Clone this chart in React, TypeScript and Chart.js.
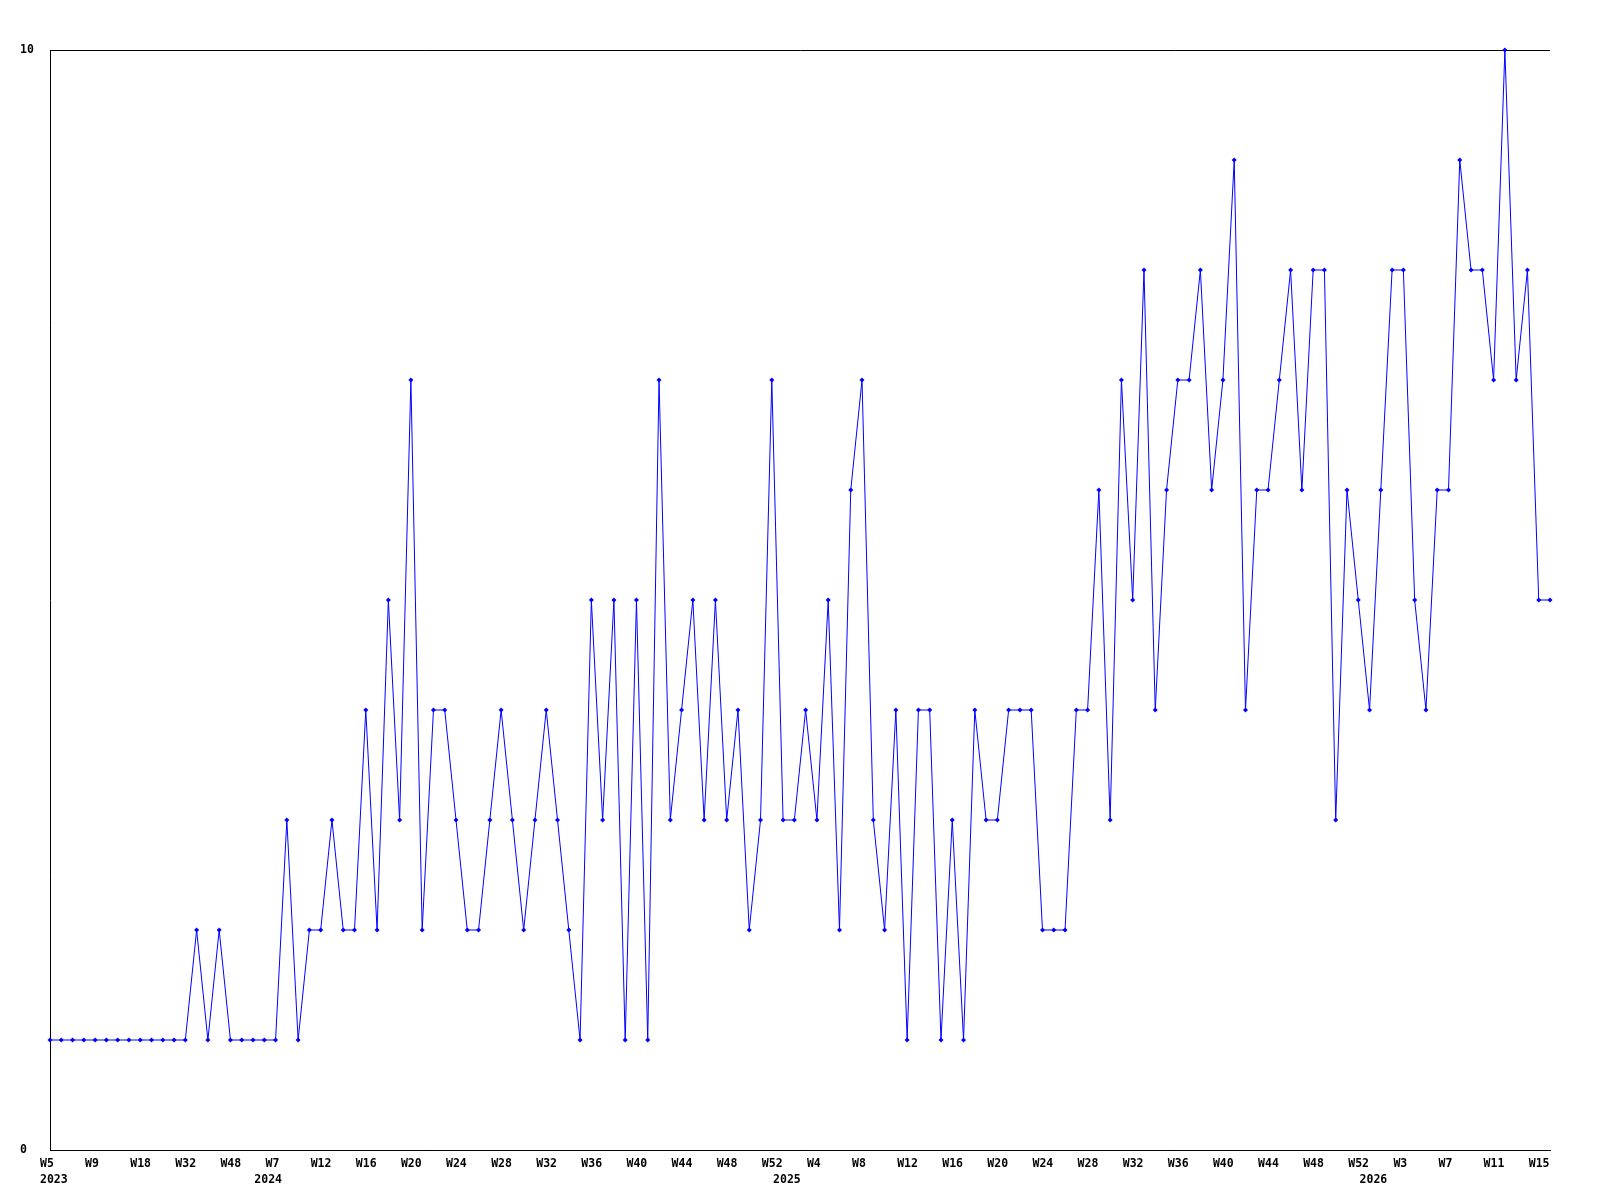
import React, { useEffect, useRef } from "react";
import { Chart, registerables } from "chart.js";

Chart.register(...registerables);

// Week labels per point, grouped by year
const years = ["2023", "2024", "2025", "2026"];
const weeks2023 = ["W5", "W6", "W7", "W8", "W9", "W11", "W13", "W16", "W18", "W21", "W25", "W28", "W32", "W36", "W40", "W44", "W48", "W50", "W52"];
const weeks2024 = ["W5", "W7", "W8", "W9", "W11", "W12", "W13", "W14", "W15", "W16", "W17", "W18", "W19", "W20", "W21", "W22", "W23", "W24", "W25", "W26", "W27", "W28", "W29", "W30", "W31", "W32", "W33", "W34", "W35", "W36", "W37", "W38", "W39", "W40", "W41", "W42", "W43", "W44", "W45", "W46", "W47", "W48", "W49", "W50", "W51", "W52"];
const weeks2025 = ["W1", "W2", "W3", "W4", "W5", "W6", "W7", "W8", "W9", "W10", "W11", "W12", "W13", "W14", "W15", "W16", "W17", "W18", "W19", "W20", "W21", "W22", "W23", "W24", "W25", "W26", "W27", "W28", "W29", "W30", "W31", "W32", "W33", "W34", "W35", "W36", "W37", "W38", "W39", "W40", "W41", "W42", "W43", "W44", "W45", "W46", "W47", "W48", "W49", "W50", "W51", "W52"];
const weeks2026 = ["W0", "W1", "W2", "W3", "W4", "W5", "W6", "W7", "W8", "W9", "W10", "W11", "W12", "W13", "W14", "W15", "W16"];

// Values per point, grouped by year
const values2023 = [1, 1, 1, 1, 1, 1, 1, 1, 1, 1, 1, 1, 1, 2, 1, 2, 1, 1, 1];
const values2024 = [1, 1, 3, 1, 2, 2, 3, 2, 2, 4, 2, 5, 3, 7, 2, 4, 4, 3, 2, 2, 3, 4, 3, 2, 3, 4, 3, 2, 1, 5, 3, 5, 1, 5, 1, 7, 3, 4, 5, 3, 5, 3, 4, 2, 3, 7];
const values2025 = [3, 3, 4, 3, 5, 2, 6, 7, 3, 2, 4, 1, 4, 4, 1, 3, 1, 4, 3, 3, 4, 4, 4, 2, 2, 2, 4, 4, 6, 3, 7, 5, 8, 4, 6, 7, 7, 8, 6, 7, 9, 4, 6, 6, 7, 8, 6, 8, 8, 3, 6, 5];
const values2026 = [4, 6, 8, 8, 5, 4, 6, 6, 9, 8, 8, 7, 10, 7, 8, 5, 5];

const yTicks = [0, 10];
const labelEvery = 4;

export default function App() {
  const canvasRef = useRef<HTMLCanvasElement | null>(null);

  useEffect(() => {
    const weekGroups = [weeks2023, weeks2024, weeks2025, weeks2026];
    const categories: string[] = weekGroups.flat();
    const values: number[] = [values2023, values2024, values2025, values2026].flat();
    const yearAt = new Map<number, string>();
    let start = 0;
    weekGroups.forEach((g, k) => {
      yearAt.set(start, years[k]);
      start += g.length;
    });

    const font = { family: '"DejaVu Sans Mono", monospace', size: 11.5, weight: "bold" as const, lineHeight: "16px" };

    const chart = new Chart(canvasRef.current!, {
      type: "line",
      data: {
        labels: categories,
        datasets: [
          {
            data: values,
            borderColor: "#0000ff",
            backgroundColor: "#0000ff",
            borderWidth: 1,
            tension: 0,
            pointStyle: "rectRot",
            pointRadius: 2.5,
            pointBorderWidth: 0,
            pointBackgroundColor: "#0000ff",
            clip: false as any,
          },
        ],
      },
      options: {
        responsive: false,
        animation: false,
        events: [],
        layout: { padding: { left: 20, top: 50, right: 50, bottom: 0 } },
        plugins: { legend: { display: false }, tooltip: { enabled: false } },
        scales: {
          x: {
            type: "category",
            offset: false,
            grid: { display: false, drawTicks: false },
            border: { display: true, color: "#000", width: 1 },
            afterFit: (scale: any) => {
              scale.height = 50;
            },
            ticks: {
              autoSkip: false,
              maxRotation: 0,
              minRotation: 0,
              align: "start",
              labelOffset: -10,
              padding: 6,
              color: "#000",
              font,
              callback: (_v: any, index: number) => {
                const wk = index % labelEvery === 0 ? categories[index] : "";
                const yr = yearAt.get(index);
                if (yr) return [wk, yr];
                return wk;
              },
            },
          },
          y: {
            min: 0,
            max: 10,
            afterFit: (scale: any) => {
              scale.width = 30;
            },
            afterBuildTicks: (scale: any) => {
              scale.ticks = yTicks.map((v) => ({ value: v }));
            },
            grid: { display: true, color: "#000", lineWidth: 1, drawTicks: false },
            border: { display: true, color: "#000", width: 1 },
            ticks: {
              crossAlign: "far",
              padding: 0,
              color: "#000",
              font,
              callback: (v: any) => String(v),
            },
          },
        },
      },
    });
    return () => chart.destroy();
  }, []);

  return (
    <div style={{ position: "absolute", left: 0, top: 0, width: 1600, height: 1200, background: "#fff" }}>
      <canvas ref={canvasRef} width={1600} height={1200} style={{ display: "block", width: 1600, height: 1200 }} />
    </div>
  );
}
